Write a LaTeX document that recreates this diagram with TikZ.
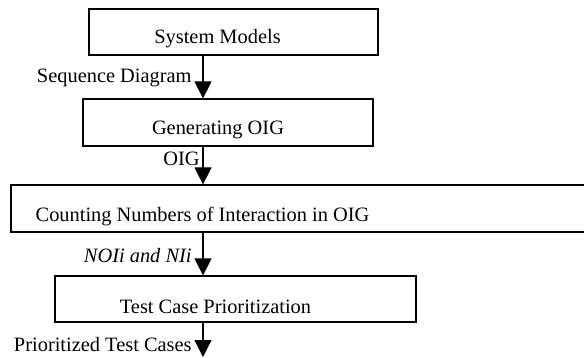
\documentclass[tikz,border=0pt]{standalone}
\usepackage{fontspec}
\setmainfont{Liberation Serif}
\usetikzlibrary{arrows.meta,positioning}

\begin{document}
\begin{tikzpicture}[x = 0.5pt, y = -0.5pt,
                    font = \fontsize{10.2}{12}\selectfont,
                    stage/.style = {draw, line width = 0.6pt, inner sep = 0pt},
                    flow/.style = {line width = 0.6pt, -{Triangle[length = 8.5pt, width = 8.5pt]}},
                    flow_label/.style = {anchor = base east, inner sep = 0pt}]
    \useasboundingbox (0,0) rectangle (584,358);
    \clip (0,0) rectangle (584,358);
    \coordinate (axis) at (203,0);
    \coordinate (out) at (203,357);
    %boxes
    \node[stage, minimum width = 144.5pt, minimum height = 23pt,
          label = {[anchor = base, xshift = -8pt, yshift = -3.5pt]center:System Models}] (sysmodels) at (233.5,32) {};
    \node[stage, minimum width = 145pt, minimum height = 23.5pt,
          label = {[anchor = base, xshift = -5pt, yshift = -3.75pt]center:Generating OIG}] (genoig) at (228,122.5) {};
    \node[stage, minimum width = 294.5pt, minimum height = 23.5pt,
          label = {[anchor = base, xshift = -51.5pt, yshift = -4.25pt]center:Counting Numbers of Interaction in OIG}] (counting) at (305.5,208.5) {};
    \node[stage, minimum width = 180.5pt, minimum height = 23pt,
          label = {[anchor = base, xshift = -10pt, yshift = -4pt]center:Test Case Prioritization}] (prioritize) at (235.5,299) {};
    %arrows
    \draw[flow] (sysmodels.south -| axis) -- (genoig.north -| axis);
    \draw[flow] (genoig.south -| axis) -- (counting.north -| axis);
    \draw[flow] (counting.south -| axis) -- (prioritize.north -| axis);
    \draw[flow] (prioritize.south -| axis) -- (out);
    %labels
    \node[flow_label] (seqlabel) at (192,83) {Sequence Diagram};
    \node[flow_label] (oiglabel) at (200,166) {OIG};
    \node[flow_label] (noilabel) at (192,262) {\itshape NOIi and NIi};
    \node[flow_label] (tclabel) at (192,351) {Prioritized Test Cases};
\end{tikzpicture}
\end{document}
